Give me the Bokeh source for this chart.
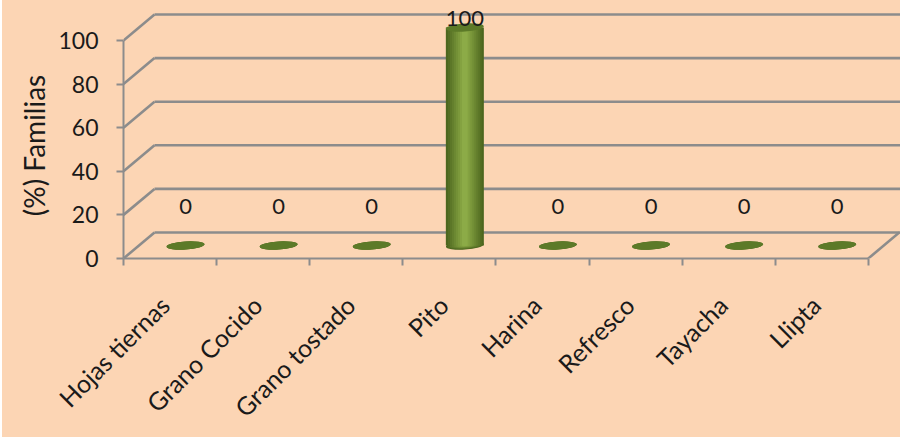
from math import pi

import numpy as np
from bokeh.core.properties import value
from bokeh.embed import file_html
from bokeh.layouts import row
from bokeh.models import ColumnDataSource, FixedTicker, Range1d, Spacer
from bokeh.plotting import figure
from bokeh.resources import INLINE

# ---- data -------------------------------------------------------------
categories = ["Hojas tiernas", "Grano Cocido", "Grano tostado", "Pito",
              "Harina", "Refresco", "Tayacha", "Llipta"]
percent_families = [0, 0, 0, 100, 0, 0, 0, 0]
y_ticks = [0, 20, 40, 60, 80, 100]
y_title = "(%) Familias"

# ---- style ------------------------------------------------------------
BG = "#FCD5B4"
GRID = "#8C8C8C"
TEXT = "#1A1A1A"
FONT = "Lato"
EDGE_GREEN = np.array([0x4C, 0x66, 0x1E])
LIGHT_GREEN = np.array([0x8C, 0xAB, 0x47])
TOP_GREEN = "#5C7A28"

# ---- geometry (pixels) -----------------------------------------------
H = 437
TITLE_W = 50            # strip holding the rotated value-axis title
W = 898 - TITLE_W
CAT_PX = 93.1           # pixels per category slot
UNIT_PX = 2.18          # pixels per percentage point
FRAME_LEFT = 71
FRAME_BOTTOM = 179
DEPTH_PX = (31, 26)     # back wall offset of the 3-D box
LABEL_NUDGE = -6 / CAT_PX
TITLE_X = 31            # centre of the rotated title inside its strip
TITLE_Y_PX = 145        # centre of the rotated title from the top

n = len(categories)
x_end = (W - FRAME_LEFT) / CAT_PX
y_end = (H - FRAME_BOTTOM) / UNIT_PX
depth_x = DEPTH_PX[0] / CAT_PX
depth_y = DEPTH_PX[1] / UNIT_PX
mid_x, mid_y = depth_x / 2, depth_y / 2
y_range = Range1d(0, y_end)

# ---- title strip (frame lines up with the main plot's frame) ------------
t = figure(width=TITLE_W, height=H, x_range=Range1d(0, TITLE_W),
           y_range=y_range, output_backend="svg", toolbar_location=None,
           x_axis_location=None, y_axis_location=None,
           min_border=0, background_fill_color=BG, border_fill_color=BG,
           outline_line_color=None, styles={"background-color": BG})
t.grid.visible = False
t.text(x=[TITLE_X], y=[(H - FRAME_BOTTOM - TITLE_Y_PX) / UNIT_PX],
       text=[y_title], angle=pi / 2,
       text_font=value(FONT), text_font_size="28px", text_color=TEXT,
       text_align="center", text_baseline="middle")

# ---- main plot ----------------------------------------------------------
p = figure(width=W, height=H,
           x_range=Range1d(0, x_end), y_range=y_range,
           output_backend="svg", toolbar_location=None,
           min_border_left=FRAME_LEFT, min_border_bottom=FRAME_BOTTOM,
           min_border_top=0, min_border_right=0,
           background_fill_color=BG, border_fill_color=BG,
           outline_line_color=None, styles={"background-color": BG})
p.xgrid.visible = False
p.ygrid.visible = False

# walls: back-wall gridlines, side-wall diagonals, floor edge
ticks = np.array(y_ticks, dtype=float)
p.segment(x0=np.full(len(ticks), depth_x), y0=ticks + depth_y,
          x1=np.full(len(ticks), x_end + 1), y1=ticks + depth_y,
          line_color=GRID, line_width=2.6)
p.segment(x0=np.zeros(len(ticks)), y0=ticks,
          x1=np.full(len(ticks), depth_x), y1=ticks + depth_y,
          line_color=GRID, line_width=2.6)
p.segment(x0=[n], y0=[0], x1=[n + depth_x], y1=[depth_y],
          line_color=GRID, line_width=2.6)

# cylinders
vals = np.array(percent_families, dtype=float)
cx = np.arange(n) + 0.5 + mid_x
cyl_w = 38 / CAT_PX
cap_h = 8 / UNIT_PX
src = ColumnDataSource(dict(x=cx, bottom=np.full(n, mid_y), top=vals + mid_y,
                            label=[f"{v:g}" for v in percent_families],
                            label_y=np.maximum(vals + mid_y + 0.9, 20.6)))

bands = 9
for k in range(bands):
    f = k / (bands - 1)
    rgb = EDGE_GREEN + (LIGHT_GREEN - EDGE_GREEN) * f
    col = "#%02x%02x%02x" % tuple(int(c) for c in rgb)
    w = cyl_w * (1 - 0.85 * f)
    p.ellipse(x="x", y="bottom", width=w, height=cap_h * (1 - 0.85 * f),
              angle=0.06, fill_color=col, line_color=None, source=src)
    p.vbar(x="x", bottom="bottom", top="top", width=w,
           fill_color=col, line_color=None, source=src)
p.ellipse(x="x", y="top", width=cyl_w, height=cap_h, angle=0.06,
          fill_color=TOP_GREEN, line_color=None, source=src)

p.text(x="x", y="label_y", text="label", source=src,
       text_font=value(FONT), text_font_size="22px", text_color=TEXT,
       text_align="center", text_baseline="bottom")

# y axis
yax = p.yaxis[0]
yax.ticker = FixedTicker(ticks=y_ticks)
yax.bounds = (0, 100)
yax.minor_tick_line_color = None
yax.major_tick_in = 0
yax.major_tick_out = 7
yax.major_tick_line_color = GRID
yax.major_tick_line_width = 2
yax.axis_line_color = GRID
yax.axis_line_width = 2
yax.major_label_text_font = FONT
yax.major_label_text_font_size = "23px"
yax.major_label_text_color = TEXT
yax.major_label_standoff = 18

# x axis: labels near slot centres, tick marks at slot edges
xax = p.xaxis[0]
label_pos = [i + 0.5 + LABEL_NUDGE for i in range(n)]
xax.ticker = FixedTicker(ticks=label_pos, minor_ticks=list(range(n + 1)))
xax.major_label_overrides = {c: name for c, name in zip(label_pos, categories)}
xax.bounds = (0, n)
xax.major_tick_line_color = None
xax.minor_tick_line_color = GRID
xax.minor_tick_line_width = 2
xax.minor_tick_in = 0
xax.minor_tick_out = 7
xax.axis_line_color = GRID
xax.axis_line_width = 2
xax.major_label_orientation = pi / 4
xax.major_label_text_font = FONT
xax.major_label_text_font_size = "25px"
xax.major_label_text_color = TEXT
xax.major_label_standoff = 35

layout = row(Spacer(width=2, height=H), t, p)

open("out.html", "w").write(file_html(layout, INLINE))
